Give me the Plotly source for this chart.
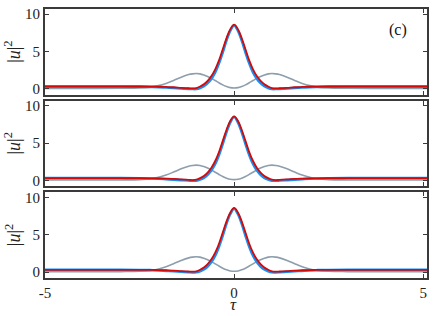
import plotly.graph_objects as go
from plotly.subplots import make_subplots

# tau sample points
tau = [-5.0, -4.0, -3.0, -2.5, -2.2, -2.0, -1.8, -1.6, -1.4, -1.2, -1.1, -1.0, -0.9, -0.8, -0.7,
       -0.6, -0.5, -0.4, -0.3, -0.2, -0.1, 0.0, 0.1, 0.2, 0.3, 0.4, 0.5, 0.6, 0.7, 0.8, 0.9,
       1.0, 1.1, 1.2, 1.4, 1.6, 1.8, 2.0, 2.2, 2.5, 3.0, 4.0, 5.0, 5.1]

# red curve |u|^2
red = [0.3, 0.3, 0.3, 0.3, 0.28, 0.27, 0.24, 0.2, 0.13, 0.07, 0.05, 0.1, 0.3, 0.6, 1.05,
       1.7, 2.6, 3.8, 5.3, 6.8, 8.0, 8.6, 8.0, 6.8, 5.3, 3.8, 2.6, 1.7, 1.05, 0.6, 0.3,
       0.1, 0.05, 0.07, 0.13, 0.2, 0.24, 0.27, 0.28, 0.3, 0.3, 0.3, 0.3, 0.3]

# blue curve |u|^2
blue = [0.3, 0.3, 0.3, 0.28, 0.25, 0.22, 0.16, 0.1, 0.03, -0.02, -0.04, -0.03, 0.1, 0.35, 0.75,
        1.35, 2.2, 3.4, 4.9, 6.5, 7.8, 8.5, 7.8, 6.5, 4.9, 3.4, 2.2, 1.35, 0.75, 0.35, 0.1,
        -0.03, -0.04, -0.02, 0.03, 0.1, 0.16, 0.22, 0.25, 0.28, 0.3, 0.3, 0.3, 0.3]

# gray curve |u|^2
gray = [0.05, 0.05, 0.06, 0.1, 0.22, 0.42, 0.72, 1.12, 1.55, 1.9, 2.0, 2.05, 2.0, 1.85, 1.65,
        1.4, 1.1, 0.8, 0.52, 0.3, 0.15, 0.1, 0.15, 0.3, 0.52, 0.8, 1.1, 1.4, 1.65, 1.85, 2.0,
        2.05, 2.0, 1.9, 1.55, 1.12, 0.72, 0.42, 0.22, 0.1, 0.06, 0.05, 0.05, 0.05]

x_ticks = [-5, 0, 5]
y_ticks = [0, 5, 10]
panel_label = "(c)"

GRAY = "#8d9eac"
BLUE = "#1b8ef2"
RED = "#d10a0a"
AX = "#3a3a3a"
FONT = "Liberation Serif, Times New Roman, serif"

fig = make_subplots(rows=3, cols=1, shared_xaxes=True, vertical_spacing=0.022)

for r in range(1, 4):
    fig.add_trace(go.Scatter(x=tau, y=gray, mode="lines", line=dict(color=GRAY, width=1.6, shape="spline"),
                             showlegend=False), row=r, col=1)
    fig.add_trace(go.Scatter(x=tau, y=blue, mode="lines", line=dict(color=BLUE, width=2.6, shape="spline"),
                             showlegend=False), row=r, col=1)
    fig.add_trace(go.Scatter(x=tau, y=red, mode="lines", line=dict(color=RED, width=1.8, shape="spline"),
                             showlegend=False), row=r, col=1)
    fig.update_xaxes(range=[-5, 5.1], tickvals=x_ticks, ticktext=[str(v) for v in x_ticks],
                     showticklabels=(r == 3), ticks="inside", ticklen=4, tickwidth=1.2, tickcolor=AX,
                     showline=True, linecolor=AX, linewidth=2, mirror="ticks", showgrid=False,
                     zeroline=False, automargin=False,
                     tickfont=dict(family=FONT, size=15, color="#222"), row=r, col=1)
    fig.update_yaxes(range=[-0.8, 10.7], tickvals=y_ticks, ticktext=[str(v) for v in y_ticks],
                     ticks="inside", ticklen=4, tickwidth=1.2, tickcolor=AX,
                     showline=True, linecolor=AX, linewidth=2, mirror="ticks", showgrid=False,
                     zeroline=False, automargin=False,
                     tickfont=dict(family=FONT, size=15, color="#222"), row=r, col=1)

W, H = 436, 316
L, R, T, B = 45, 9, 9, 38
pw = W - L - R
ph = H - T - B

doms = [fig.layout.yaxis.domain, fig.layout.yaxis2.domain, fig.layout.yaxis3.domain]
annos = []
for d in doms:
    annos.append(dict(text="|<i>u</i>|<sup>2</sup>", textangle=-90, xref="paper", yref="paper",
                      x=(13 - L) / pw, y=(d[0] + d[1]) / 2, xanchor="center", yanchor="middle",
                      showarrow=False, font=dict(family=FONT, size=18, color="#222")))
annos.append(dict(text=panel_label, xref="paper", yref="paper", x=(398 - L) / pw,
                  y=1 - (30 - T) / ph, xanchor="center", yanchor="middle", showarrow=False,
                  font=dict(family=FONT, size=16, color="#111")))
annos.append(dict(text="<i>τ</i>", xref="paper", yref="paper", x=(233 - L) / pw,
                  y=1 - (304 - T) / ph, xanchor="center", yanchor="middle", showarrow=False,
                  font=dict(family=FONT, size=17, color="#222")))

fig.update_layout(width=W, height=H, margin=dict(l=L, r=R, t=T, b=B, autoexpand=False),
                  paper_bgcolor="white", plot_bgcolor="white", annotations=annos)

fig.write_html("out.html", config={"displayModeBar": False},
               post_script="document.body.style.margin='0';")
